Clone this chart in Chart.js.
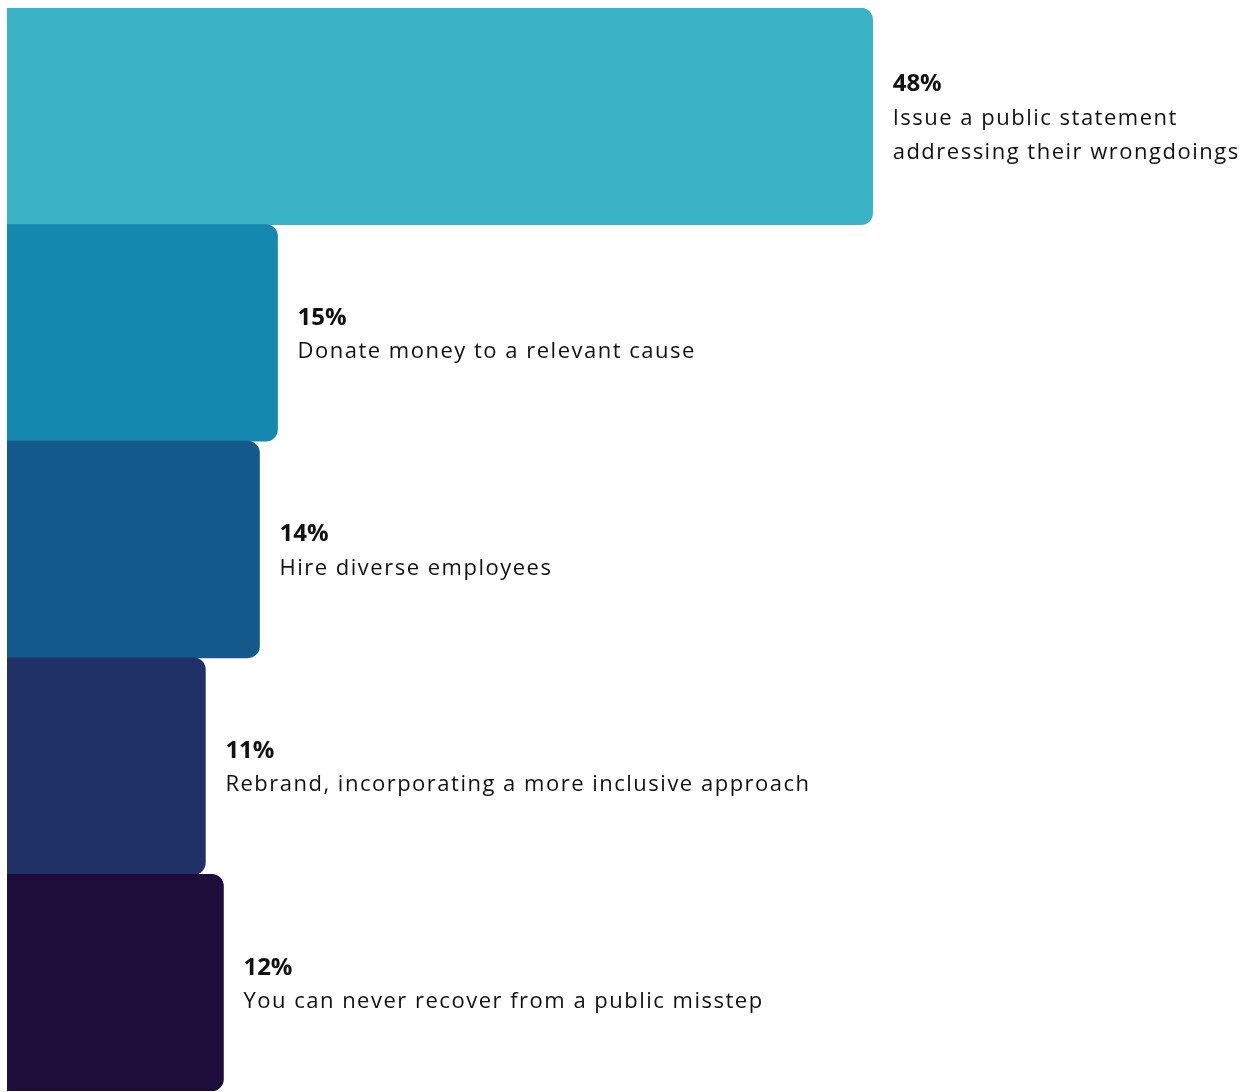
<!DOCTYPE html>
<html>
<head>
<meta charset="utf-8">
<title>Responses</title>
<script src="https://cdn.jsdelivr.net/npm/chart.js@4/dist/chart.umd.min.js"></script>
<style>
    html, body { margin: 0; padding: 0; background: #fff; overflow: hidden; }
    #wrap { width: 1255px; height: 1092px; position: relative; }
</style>
</head>
<body>
<div id="wrap"><canvas id="chartRespuestas"></canvas></div>
<script>
// --- Datos ---
const categorias = [
    ["Issue a public statement", "addressing their wrongdoings"],
    ["Donate money to a relevant cause"],
    ["Hire diverse employees"],
    ["Rebrand, incorporating a more inclusive approach"],
    ["You can never recover from a public misstep"]
];
const porcentajes = [48, 15, 14, 11, 12];
const colores = ["#3bb3c6", "#1488ae", "#14598b", "#1f3166", "#1e0c3b"];

// --- Etiquetas a la derecha de cada barra ---
const etiquetasBarras = {
    id: "etiquetasBarras",
    afterDatasetsDraw(chart) {
        const ctx = chart.ctx;
        const meta = chart.getDatasetMeta(0);
        const lineH = 34;
        ctx.save();
        ctx.fillStyle = "#111";
        ctx.textAlign = "left";
        ctx.textBaseline = "middle";
        meta.data.forEach((bar, i) => {
            const lineas = categorias[i];
            const x = bar.x + 20;
            const total = lineas.length + 1;
            let y = bar.y + 2 - (total - 1) * lineH / 2;
            ctx.letterSpacing = "0px";
            ctx.font = "bold 24px 'Open Sans'";
            ctx.fillText(porcentajes[i] + "%", x, y);
            ctx.letterSpacing = "1.5px";
            ctx.font = "22px 'Open Sans'";
            lineas.forEach(l => {
                y += lineH;
                ctx.fillText(l, x, y);
            });
        });
        ctx.restore();
    }
};

const ctx = document.getElementById("chartRespuestas").getContext("2d");
new Chart(ctx, {
    type: "bar",
    data: {
        labels: categorias.map(c => c.join(" ")),
        datasets: [{
            data: porcentajes,
            backgroundColor: colores,
            borderRadius: 12,
            borderSkipped: "start",
            barPercentage: 1,
            categoryPercentage: 1
        }]
    },
    options: {
        indexAxis: "y",
        responsive: true,
        maintainAspectRatio: false,
        animation: false,
        layout: { padding: { left: 7, top: 8, right: 0, bottom: 1 } },
        plugins: { legend: { display: false }, tooltip: { enabled: false } },
        scales: {
            x: { display: false, min: 0, max: 69.2 },
            y: { display: false }
        }
    },
    plugins: [etiquetasBarras]
});
</script>
</body>
</html>
